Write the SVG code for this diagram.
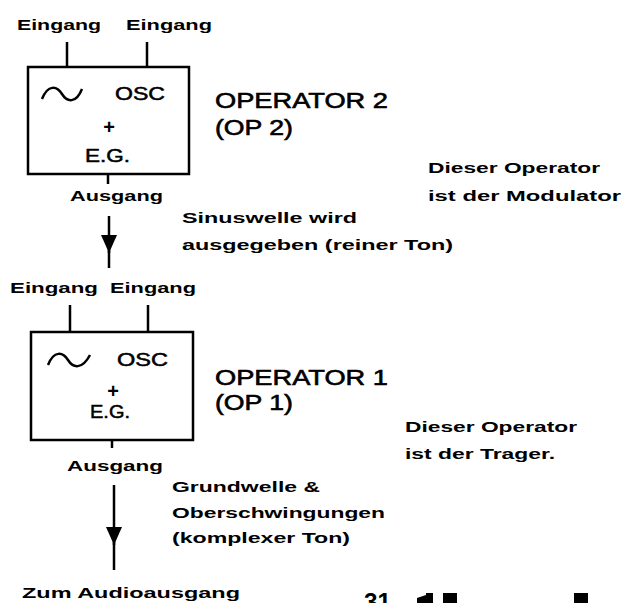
<svg xmlns="http://www.w3.org/2000/svg" width="621" height="603" viewBox="0 0 621 603">
<style>
text{font-family:"Liberation Sans",Arial,sans-serif;fill:#000}
.s{font-size:15px;font-weight:bold}
.m{font-size:18px;stroke:#000;stroke-width:0.5}
.b{font-size:22px;stroke:#000;stroke-width:0.6}
.p{font-size:20px;font-weight:bold}
.ln{stroke:#000;stroke-width:2.5;fill:none}
</style>
<defs>
<marker id="ah" markerWidth="18" markerHeight="16" refX="18" refY="8" orient="auto" markerUnits="userSpaceOnUse" viewBox="0 0 18 16">
<path d="M0,0 L18,8 L0,16 Z" fill="#000"/>
</marker>
</defs>
<rect width="621" height="603" fill="#fff"/>

<g id="op2">
<rect x="28" y="67" width="161" height="107" class="ln"/>
<path d="M42,99 C48,84 57,86 62,94 C67,102 76,104 82,89" class="ln"/>
<text x="115" y="100" class="m" textLength="50" lengthAdjust="spacingAndGlyphs">OSC</text>
<text x="109" y="134" class="p" text-anchor="middle">+</text>
<text x="85" y="162" class="m" textLength="45" lengthAdjust="spacingAndGlyphs">E.G.</text>
<text x="215" y="108" class="b" textLength="173" lengthAdjust="spacingAndGlyphs">OPERATOR 2</text>
<text x="215" y="135" class="b" textLength="78" lengthAdjust="spacingAndGlyphs">(OP 2)</text>
</g>

<g id="op1">
<rect x="31" y="332" width="162" height="108" class="ln"/>
<path d="M48,365 C54,350 63,352 68,360 C73,368 82,370 90,355" class="ln"/>
<text x="117" y="366" class="m" textLength="51" lengthAdjust="spacingAndGlyphs">OSC</text>
<text x="113" y="398" class="p" text-anchor="middle">+</text>
<text x="90" y="418" class="m" textLength="40" lengthAdjust="spacingAndGlyphs">E.G.</text>
<text x="215" y="385" class="b" textLength="173" lengthAdjust="spacingAndGlyphs">OPERATOR 1</text>
<text x="215" y="410" class="b" textLength="78" lengthAdjust="spacingAndGlyphs">(OP 1)</text>
</g>

<g id="connectors">
<line x1="67" y1="42" x2="67" y2="67" class="ln"/>
<line x1="147" y1="42" x2="147" y2="67" class="ln"/>
<line x1="108" y1="174" x2="108" y2="184" class="ln"/>
<line x1="109" y1="216" x2="109" y2="253" class="ln" marker-end="url(#ah)"/>
<line x1="109" y1="250" x2="109" y2="268" class="ln"/>
<line x1="70" y1="305" x2="70" y2="332" class="ln"/>
<line x1="148" y1="305" x2="148" y2="332" class="ln"/>
<line x1="112" y1="440" x2="112" y2="448" class="ln"/>
<line x1="114" y1="485" x2="114" y2="545" class="ln" marker-end="url(#ah)"/>
<line x1="114" y1="542" x2="114" y2="570" class="ln"/>
</g>

<g id="labels">
<text x="17" y="30" class="s" textLength="84" lengthAdjust="spacingAndGlyphs">Eingang</text>
<text x="126" y="30" class="s" textLength="86" lengthAdjust="spacingAndGlyphs">Eingang</text>
<text x="70" y="201" class="s" textLength="93" lengthAdjust="spacingAndGlyphs">Ausgang</text>
<text x="182" y="223" class="s" textLength="175" lengthAdjust="spacingAndGlyphs">Sinuswelle wird</text>
<text x="182" y="250" class="s" textLength="271" lengthAdjust="spacingAndGlyphs">ausgegeben (reiner Ton)</text>
<text x="428" y="173" class="s" textLength="172" lengthAdjust="spacingAndGlyphs">Dieser Operator</text>
<text x="428" y="201" class="s" textLength="193" lengthAdjust="spacingAndGlyphs">ist der Modulator</text>
<text x="10" y="293" class="s" textLength="88" lengthAdjust="spacingAndGlyphs">Eingang</text>
<text x="110" y="293" class="s" textLength="86" lengthAdjust="spacingAndGlyphs">Eingang</text>
<text x="67" y="471" class="s" textLength="96" lengthAdjust="spacingAndGlyphs">Ausgang</text>
<text x="172" y="492" class="s" textLength="148" lengthAdjust="spacingAndGlyphs">Grundwelle &amp;</text>
<text x="172" y="518" class="s" textLength="213" lengthAdjust="spacingAndGlyphs">Oberschwingungen</text>
<text x="172" y="543" class="s" textLength="178" lengthAdjust="spacingAndGlyphs">(komplexer Ton)</text>
<text x="405" y="432" class="s" textLength="172" lengthAdjust="spacingAndGlyphs">Dieser Operator</text>
<text x="405" y="459" class="s" textLength="150" lengthAdjust="spacingAndGlyphs">ist der Trager.</text>
<text x="22" y="598" class="s" textLength="218" lengthAdjust="spacingAndGlyphs">Zum Audioausgang</text>
<text x="364" y="610" font-size="24" font-weight="bold" textLength="27" lengthAdjust="spacingAndGlyphs">31</text>
<path d="M417,603 L417,598 L426,595 L426,593 L433,593 L433,603 Z" fill="#000"/>
<rect x="443" y="593" width="14" height="10" fill="#000"/>
<rect x="574" y="593" width="14" height="10" fill="#000"/>
</g>
</svg>
